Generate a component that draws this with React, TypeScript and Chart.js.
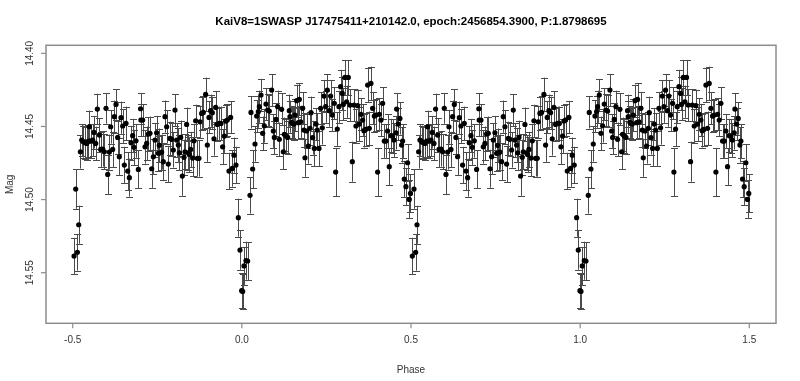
import { useEffect, useRef } from 'react';
import { Chart, registerables } from 'chart.js';

Chart.register(...registerables);

const TITLE = 'KaiV8=1SWASP J17475411+210142.0, epoch:2456854.3900, P:1.8798695';
const X_LABEL = 'Phase';
const Y_LABEL = 'Mag';
const X_TICKS = [-0.5, 0.0, 0.5, 1.0, 1.5];
const X_TICK_LABELS = ['-0.5', '0.0', '0.5', '1.0', '1.5'];
const Y_TICKS = [14.40, 14.45, 14.50, 14.55];
const Y_TICK_LABELS = ['14.40', '14.45', '14.50', '14.55'];
const X_RANGE = [-0.579, 1.579];
const Y_RANGE = [14.3945, 14.5846];

// one cycle of phases (-0.5 .. 0.5); plotted again shifted by +1
const phase = [
  -0.4961, -0.4912, -0.4863, -0.4823, -0.4774, -0.4735, -0.4686, -0.4636, -0.4587, -0.4538,
  -0.4508, -0.4459, -0.4410, -0.4370, -0.4321, -0.4272, -0.4213, -0.4173, -0.4114, -0.4065,
  -0.4016, -0.3966, -0.3917, -0.3878, -0.3819, -0.3769, -0.3720, -0.3671, -0.3622, -0.3572,
  -0.3523, -0.3474, -0.3425, -0.3375, -0.3326, -0.3277, -0.3228, -0.3188, -0.3129, -0.3060,
  -0.2995, -0.2985, -0.2932, -0.2863, -0.2814, -0.2765, -0.2716, -0.2666, -0.2617, -0.2568,
  -0.2519, -0.2469, -0.2440, -0.2400, -0.2371, -0.2322, -0.2272, -0.2223, -0.2174, -0.2125,
  -0.2075, -0.2026, -0.1977, -0.1928, -0.1878, -0.1849, -0.1809, -0.1760, -0.1711, -0.1681,
  -0.1632, -0.1583, -0.1553, -0.1514, -0.1455, -0.1415, -0.1366, -0.1317, -0.1268, -0.1238,
  -0.1189, -0.1140, -0.1071, -0.1021, -0.0972, -0.0923, -0.0874, -0.0824, -0.0775, -0.0726,
  -0.0667, -0.0617, -0.0568, -0.0519, -0.0480, -0.0430, -0.0381, -0.0332, -0.0283, -0.0233,
  -0.0174, -0.0104, -0.0055, -0.0006, 0.0024, 0.0063, 0.0122, 0.0172, 0.0241, 0.0270,
  0.0319, 0.0388, 0.0438, 0.0487, 0.0516, 0.0566, 0.0615, 0.0664, 0.0713, 0.0763,
  0.0812, 0.0881, 0.0930, 0.0960, 0.1009, 0.1058, 0.1107, 0.1176, 0.1226, 0.1255,
  0.1304, 0.1354, 0.1403, 0.1423, 0.1472, 0.1501, 0.1541, 0.1570, 0.1620, 0.1669,
  0.1698, 0.1738, 0.1797, 0.1836, 0.1866, 0.1915, 0.1964, 0.2014, 0.2043, 0.2092,
  0.2142, 0.2191, 0.2230, 0.2280, 0.2329, 0.2378, 0.2427, 0.2477, 0.2526, 0.2585,
  0.2624, 0.2673, 0.2733, 0.2772, 0.2821, 0.2870, 0.2920, 0.2969, 0.2999, 0.3048,
  0.3097, 0.3146, 0.3196, 0.3265, 0.3314, 0.3373, 0.3422, 0.3471, 0.3521, 0.3570,
  0.3609, 0.3658, 0.3718, 0.3767, 0.3816, 0.3865, 0.3915, 0.3964, 0.4013, 0.4062,
  0.4112, 0.4161, 0.4210, 0.4259, 0.4309, 0.4358, 0.4407, 0.4456, 0.4496, 0.4555,
  0.4575, 0.4624, 0.4673, 0.4723, 0.4752, 0.4801, 0.4850, 0.4900, 0.4949, 0.4985,
];

const mag = [
  14.5386, 14.4928, 14.5361, 14.5172, 14.4673, 14.4593, 14.4604, 14.4611, 14.4616, 14.4600,
  14.4502, 14.4598, 14.4593, 14.4541, 14.4616, 14.4381, 14.4559, 14.4657, 14.4654, 14.4673,
  14.4376, 14.4828, 14.4675, 14.4502, 14.4657, 14.4433, 14.4349, 14.4575, 14.4707, 14.4440,
  14.4497, 14.4764, 14.4479, 14.4805, 14.4850, 14.4611, 14.4563, 14.4643, 14.4598, 14.4794,
  14.4379, 14.4456, 14.4456, 14.4639, 14.4616, 14.4552, 14.4547, 14.4789, 14.4707, 14.4593,
  14.4543, 14.4684, 14.4629, 14.4680, 14.4675, 14.4741, 14.4433, 14.4502, 14.4757, 14.4582,
  14.4588, 14.4661, 14.4388, 14.4593, 14.4627, 14.4680, 14.4575, 14.4839, 14.4711, 14.4673,
  14.4486, 14.4680, 14.4691, 14.4657, 14.4716, 14.4598, 14.4461, 14.4718, 14.4718, 14.4468,
  14.4411, 14.4404, 14.4281, 14.4627, 14.4438, 14.4392, 14.4406, 14.4584, 14.4370, 14.4486,
  14.4479, 14.4479, 14.4639, 14.4566, 14.4463, 14.4456, 14.4805, 14.4438, 14.4787, 14.4696,
  14.4764, 14.5124, 14.5345, 14.5623, 14.5628, 14.5454, 14.5418, 14.5420, 14.4971, 14.4404,
  14.4791, 14.4620, 14.4429, 14.4399, 14.4365, 14.4285, 14.4547, 14.4495, 14.4347, 14.4388,
  14.4395, 14.4251, 14.4531, 14.4575, 14.4452, 14.4365, 14.4588, 14.4383, 14.4673, 14.4554,
  14.4566, 14.4575, 14.4392, 14.4433, 14.4472, 14.4479, 14.4484, 14.4422, 14.4324, 14.4474,
  14.4315, 14.4468, 14.4376, 14.4525, 14.4714, 14.4531, 14.4634, 14.4513, 14.4406, 14.4577,
  14.4650, 14.4484, 14.4525, 14.4650, 14.4376, 14.4509, 14.4292, 14.4365, 14.4251, 14.4392,
  14.4292, 14.4422, 14.4342, 14.4812, 14.4518, 14.4365, 14.4228, 14.4274, 14.4349, 14.4165,
  14.4331, 14.4165, 14.4354, 14.4741, 14.4354, 14.4497, 14.4358, 14.4484, 14.4417, 14.4456,
  14.4529, 14.4520, 14.4217, 14.4513, 14.4206, 14.4376, 14.4429, 14.4422, 14.4812, 14.4417,
  14.4456, 14.4342, 14.4600, 14.4600, 14.4531, 14.4775, 14.4563, 14.4566, 14.4593, 14.4543,
  14.4381, 14.4484, 14.4445, 14.4627, 14.4600, 14.4860, 14.4912, 14.4748, 14.4999, 14.4958,
];

const magErr = [
  0.0125, 0.0135, 0.0125, 0.0130, 0.0115, 0.0110, 0.0110, 0.0110, 0.0110, 0.0110,
  0.0110, 0.0115, 0.0110, 0.0110, 0.0115, 0.0105, 0.0115, 0.0120, 0.0120, 0.0120,
  0.0105, 0.0135, 0.0120, 0.0115, 0.0120, 0.0110, 0.0105, 0.0115, 0.0125, 0.0110,
  0.0115, 0.0125, 0.0115, 0.0130, 0.0130, 0.0115, 0.0115, 0.0120, 0.0115, 0.0130,
  0.0105, 0.0110, 0.0110, 0.0115, 0.0115, 0.0115, 0.0115, 0.0130, 0.0120, 0.0115,
  0.0115, 0.0120, 0.0115, 0.0120, 0.0120, 0.0125, 0.0110, 0.0115, 0.0125, 0.0115,
  0.0115, 0.0120, 0.0110, 0.0115, 0.0115, 0.0120, 0.0115, 0.0135, 0.0120, 0.0120,
  0.0115, 0.0120, 0.0120, 0.0120, 0.0125, 0.0115, 0.0110, 0.0125, 0.0125, 0.0110,
  0.0110, 0.0110, 0.0115, 0.0115, 0.0110, 0.0110, 0.0110, 0.0115, 0.0110, 0.0115,
  0.0115, 0.0115, 0.0120, 0.0115, 0.0110, 0.0110, 0.0125, 0.0110, 0.0125, 0.0120,
  0.0125, 0.0130, 0.0135, 0.0120, 0.0120, 0.0130, 0.0130, 0.0130, 0.0125, 0.0110,
  0.0130, 0.0120, 0.0110, 0.0110, 0.0110, 0.0110, 0.0115, 0.0115, 0.0110, 0.0110,
  0.0110, 0.0110, 0.0115, 0.0115, 0.0110, 0.0110, 0.0115, 0.0110, 0.0120, 0.0115,
  0.0115, 0.0115, 0.0110, 0.0110, 0.0110, 0.0110, 0.0110, 0.0110, 0.0110, 0.0110,
  0.0110, 0.0110, 0.0110, 0.0115, 0.0130, 0.0115, 0.0120, 0.0115, 0.0110, 0.0115,
  0.0120, 0.0110, 0.0115, 0.0120, 0.0110, 0.0115, 0.0110, 0.0110, 0.0110, 0.0110,
  0.0110, 0.0110, 0.0110, 0.0165, 0.0115, 0.0110, 0.0115, 0.0115, 0.0110, 0.0120,
  0.0110, 0.0120, 0.0110, 0.0137, 0.0110, 0.0115, 0.0110, 0.0115, 0.0110, 0.0110,
  0.0115, 0.0115, 0.0115, 0.0115, 0.0115, 0.0110, 0.0110, 0.0110, 0.0165, 0.0110,
  0.0110, 0.0110, 0.0115, 0.0115, 0.0115, 0.0125, 0.0115, 0.0115, 0.0115, 0.0115,
  0.0110, 0.0110, 0.0110, 0.0120, 0.0115, 0.0125, 0.0125, 0.0125, 0.0130, 0.0130,
];

const CYCLE_SHIFTS = [0, 1];

const FONT = '"Liberation Sans", Arial, Helvetica, sans-serif';

const rFramePlugin = {
  id: 'rFrame',
  beforeDatasetsDraw(chart: any) {
    const { ctx } = chart;
    const xs = chart.scales.x;
    const ys = chart.scales.y;
    ctx.save();
    ctx.strokeStyle = '#4a4a4a';
    ctx.lineWidth = 1;
    const cap = 3.5;
    chart.data.datasets.forEach((ds: any) => {
      ds.data.forEach((p: any) => {
        const px = Math.round(xs.getPixelForValue(p.x)) + 0.5;
        const y1 = ys.getPixelForValue(p.y - p.e);
        const y2 = ys.getPixelForValue(p.y + p.e);
        ctx.beginPath();
        ctx.moveTo(px, y1);
        ctx.lineTo(px, y2);
        ctx.moveTo(px - cap, Math.round(y1) + 0.5);
        ctx.lineTo(px + cap, Math.round(y1) + 0.5);
        ctx.moveTo(px - cap, Math.round(y2) + 0.5);
        ctx.lineTo(px + cap, Math.round(y2) + 0.5);
        ctx.stroke();
      });
    });
    ctx.restore();
  },
  afterDraw(chart: any) {
    const { ctx, chartArea } = chart;
    const xs = chart.scales.x;
    const ys = chart.scales.y;
    const { left, right, top, bottom } = chartArea;
    ctx.save();
    // box
    ctx.strokeStyle = '#8c8c8c';
    ctx.lineWidth = 1.5;
    ctx.strokeRect(left, top, right - left, bottom - top);
    // x ticks
    ctx.lineWidth = 1.2;
    ctx.fillStyle = '#333';
    ctx.font = `10px ${FONT}`;
    ctx.textAlign = 'center';
    ctx.textBaseline = 'middle';
    X_TICKS.forEach((v, i) => {
      const px = xs.getPixelForValue(v);
      ctx.beginPath();
      ctx.moveTo(px, bottom);
      ctx.lineTo(px, bottom + 5);
      ctx.stroke();
      ctx.fillText(X_TICK_LABELS[i], px, bottom + 17);
    });
    // y ticks
    Y_TICKS.forEach((v, i) => {
      const py = ys.getPixelForValue(v);
      ctx.beginPath();
      ctx.moveTo(left, py);
      ctx.lineTo(left - 5, py);
      ctx.stroke();
      ctx.save();
      ctx.translate(left - 16, py);
      ctx.rotate(-Math.PI / 2);
      ctx.fillText(Y_TICK_LABELS[i], 0, 0);
      ctx.restore();
    });
    // axis titles
    ctx.fillText(X_LABEL, (left + right) / 2, bottom + 47);
    ctx.save();
    ctx.translate(10, (top + bottom) / 2);
    ctx.rotate(-Math.PI / 2);
    ctx.fillText(Y_LABEL, 0, 0);
    ctx.restore();
    // main title
    ctx.fillStyle = '#000';
    ctx.font = `bold 11.5px ${FONT}`;
    ctx.fillText(TITLE, (left + right) / 2, 22);
    ctx.restore();
  },
};

export default function App() {
  const canvasRef = useRef<HTMLCanvasElement | null>(null);

  useEffect(() => {
    document.body.style.margin = '0';
    const canvas = canvasRef.current;
    if (!canvas) return;
    const points = CYCLE_SHIFTS.flatMap((s) =>
      phase.map((p, i) => ({ x: p + s, y: mag[i], e: magErr[i] }))
    );
    const chart = new Chart(canvas, {
      type: 'scatter',
      data: {
        datasets: [
          {
            data: points,
            pointRadius: 2.6,
            pointBackgroundColor: '#000',
            pointBorderWidth: 0,
            pointHoverRadius: 2.6,
          } as any,
        ],
      },
      options: {
        animation: false,
        responsive: false,
        events: [],
        layout: { padding: { left: 46, top: 45.3, right: 24, bottom: 57.7 } },
        scales: {
          x: { type: 'linear', min: X_RANGE[0], max: X_RANGE[1], display: false },
          y: { type: 'linear', min: Y_RANGE[0], max: Y_RANGE[1], reverse: true, display: false },
        },
        plugins: {
          legend: { display: false },
          tooltip: { enabled: false },
          title: { display: false },
        },
      },
      plugins: [rFramePlugin],
    });
    return () => chart.destroy();
  }, []);

  return (
    <div style={{ width: 800, height: 381, background: '#fff' }}>
      <canvas ref={canvasRef} width={800} height={381} style={{ display: 'block' }} />
    </div>
  );
}
